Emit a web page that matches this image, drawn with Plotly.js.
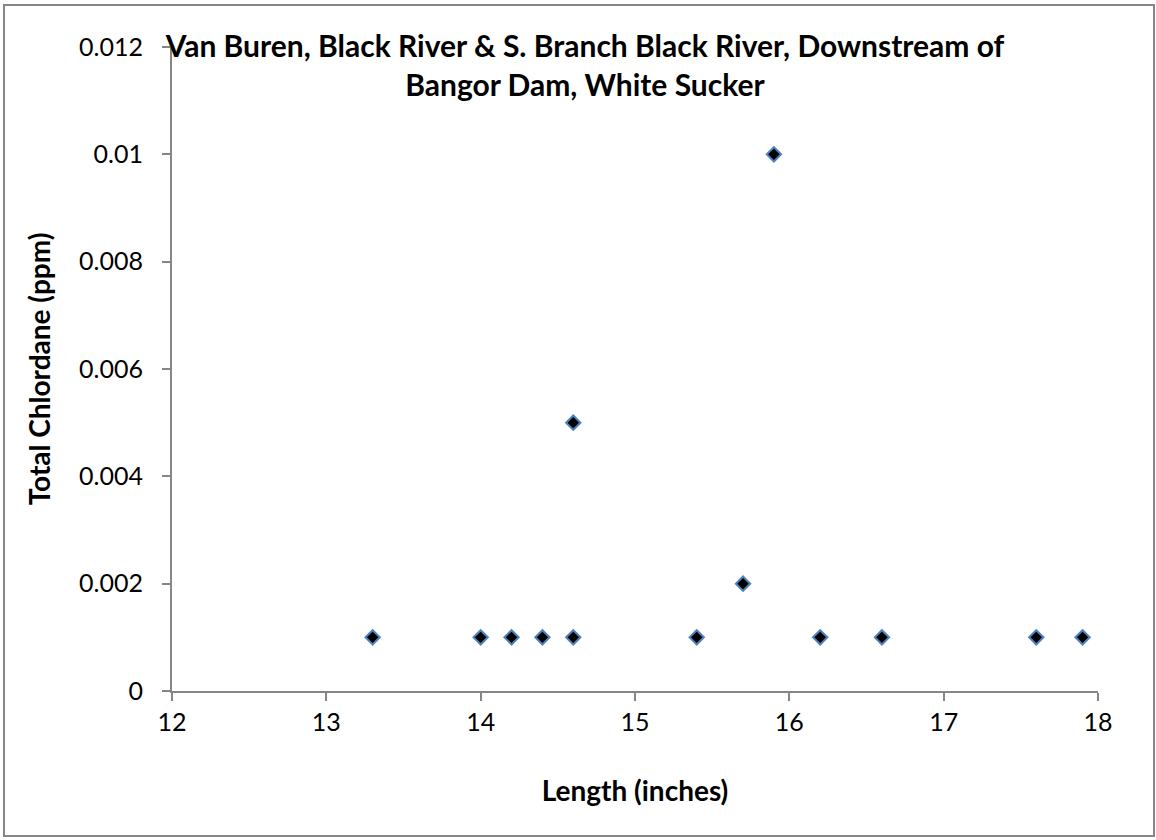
<!DOCTYPE html>
<html>
<head>
<meta charset="utf-8">
<script src="https://cdn.plot.ly/plotly-3.0.1.min.js"></script>
<style>html,body{margin:0;padding:0;background:#fff;}#chart{width:1156px;height:840px;}</style>
</head>
<body>
<div id="chart"></div>
<script>
const lengthInches = [13.3, 14.0, 14.2, 14.4, 14.6, 14.6, 15.4, 15.7, 15.9, 16.2, 16.6, 17.6, 17.9];
const chlordanePpm = [0.001, 0.001, 0.001, 0.001, 0.001, 0.005, 0.001, 0.002, 0.01, 0.001, 0.001, 0.001, 0.001];
const xTicks = [12, 13, 14, 15, 16, 17, 18];
const yTicks = [0, 0.002, 0.004, 0.006, 0.008, 0.01, 0.012];
const yTickLabels = ['0', '0.002', '0.004', '0.006', '0.008', '0.01', '0.012'];
const titleLines = ['Van Buren, Black River & S. Branch Black River, Downstream of', 'Bangor Dam, White Sucker'];

const font = 'Lato, "Open Sans", sans-serif';
const trace = {
  x: lengthInches, y: chlordanePpm, type: 'scatter', mode: 'markers',
  marker: {symbol: 'diamond', size: 11, color: '#000000', line: {color: '#4f81bd', width: 2}},
  hoverinfo: 'x+y', showlegend: false
};
const layout = {
  width: 1156, height: 840,
  margin: {l: 172, r: 58, t: 47, b: 149},
  paper_bgcolor: '#ffffff', plot_bgcolor: '#ffffff',
  font: {family: font, size: 25, color: '#000000'},
  title: {
    text: titleLines.join('<br>'),
    font: {family: font, size: 30, color: '#000000', weight: 'bold'},
    x: 0.5 + (585 - 578) / 1156, xref: 'container', xanchor: 'center',
    y: 1 - 57 / 840, yref: 'container', yanchor: 'middle'
  },
  xaxis: {
    range: [12, 18], tickvals: xTicks, ticktext: xTicks.map(String),
    showgrid: false, zeroline: false, showline: true, linecolor: '#868686', linewidth: 2,
    ticks: 'outside', ticklen: 8, tickcolor: '#868686', tickwidth: 2,
    tickfont: {family: font, size: 25},
    title: {text: '<b>Length (inches)</b>', font: {family: font, size: 28}, standoff: 46}
  },
  yaxis: {
    range: [0, 0.012], tickvals: yTicks, ticktext: yTickLabels,
    showgrid: false, zeroline: false, showline: true, linecolor: '#868686', linewidth: 2,
    ticks: 'outside', ticklen: 8, tickcolor: '#868686', tickwidth: 2,
    ticklabelstandoff: 14,
    tickfont: {family: font, size: 25},
    title: {text: '<b>Total Chlordane (ppm)</b>', font: {family: font, size: 28}, standoff: 20}
  },
  shapes: [{
    type: 'rect', xref: 'paper', yref: 'paper',
    x0: (4 - 172) / 926, x1: (1154 - 172) / 926,
    y0: (691 - 836) / 644, y1: (691 - 5) / 644,
    line: {color: '#868686', width: 2}, fillcolor: 'rgba(0,0,0,0)', layer: 'below'
  }]
};
Plotly.newPlot('chart', [trace], layout, {displayModeBar: false, staticPlot: true});
</script>
</body>
</html>
